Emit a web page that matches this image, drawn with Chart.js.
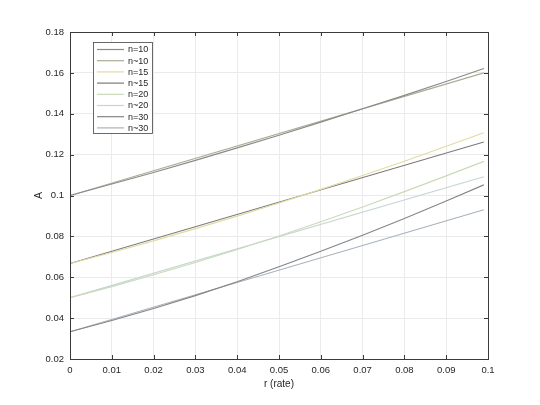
<!DOCTYPE html>
<html>
<head>
<meta charset="utf-8">
<script src="https://cdn.jsdelivr.net/npm/chart.js@4.4.1/dist/chart.umd.min.js"></script>
<style>
  html, body { margin: 0; padding: 0; background: #fff; }
  #wrap { width: 540px; height: 405px; }
</style>
</head>
<body>
<div id="wrap"><canvas id="myChart" width="540" height="405"></canvas></div>
<script>
// rates along the x axis
var rates = [0, 0.01, 0.02, 0.03, 0.04, 0.05, 0.06, 0.07, 0.08, 0.09, 0.099];
// exact curves
var exact10 = [0.1000, 0.1056, 0.1113, 0.1172, 0.1233, 0.1295, 0.1359, 0.1424, 0.1490, 0.1558, 0.1621];
var exact15 = [0.0667, 0.0721, 0.0778, 0.0838, 0.0899, 0.0963, 0.1030, 0.1098, 0.1168, 0.1241, 0.1307];
var exact20 = [0.0500, 0.0554, 0.0612, 0.0672, 0.0736, 0.0802, 0.0872, 0.0944, 0.1019, 0.1096, 0.1167];
var exact30 = [0.0333, 0.0388, 0.0447, 0.0510, 0.0578, 0.0651, 0.0727, 0.0806, 0.0888, 0.0973, 0.1052];
// approximations are straight lines, start and end
var approxRates = [0, 0.099];
var approx10 = [0.1000, 0.1600];
var approx15 = [0.0667, 0.1262];
var approx20 = [0.0500, 0.1092];
var approx30 = [0.0333, 0.0930];

var labels = ['n=10', 'n~10', 'n=15', 'n~15', 'n=20', 'n~20', 'n=30', 'n~30'];
var colors = ['#8a8a8a', '#a9ad92', '#e2dba0', '#7a7a7a', '#c9dab8', '#c3d7d3', '#858585', '#a8b3bd'];

var xTicks = [0, 0.01, 0.02, 0.03, 0.04, 0.05, 0.06, 0.07, 0.08, 0.09, 0.1];
var yTicks = [0.02, 0.04, 0.06, 0.08, 0.1, 0.12, 0.14, 0.16, 0.18];

function toPoints(xs, ys) {
    return ys.map(function (y, i) { return { x: xs[i], y: y }; });
}

var series = [
    toPoints(rates, exact10), toPoints(approxRates, approx10),
    toPoints(rates, exact15), toPoints(approxRates, approx15),
    toPoints(rates, exact20), toPoints(approxRates, approx20),
    toPoints(rates, exact30), toPoints(approxRates, approx30)
];

var datasets = series.map(function (pts, i) {
    return {
        label: labels[i],
        data: pts,
        borderColor: colors[i],
        borderWidth: 1.1,
        pointRadius: 0,
        fill: false,
        tension: 0
    };
});

var FONT = '"Liberation Sans", Arial, Helvetica, sans-serif';
var INK = '#262626';

function fmt(v) { return String(+Number(v).toFixed(4)); }

// box around the axes, inward tick marks and the framed legend
var matlabFrame = {
    id: 'matlabFrame',
    afterDraw: function (chart) {
        var ctx = chart.ctx, a = chart.chartArea;
        var xs = chart.scales.x, ys = chart.scales.y;
        ctx.save();
        ctx.strokeStyle = '#3a3a3a';
        ctx.lineWidth = 1;
        ctx.beginPath();
        xTicks.forEach(function (v) {
            var px = Math.round(xs.getPixelForValue(v)) + 0.5;
            ctx.moveTo(px, a.bottom); ctx.lineTo(px, a.bottom - 4);
            ctx.moveTo(px, a.top); ctx.lineTo(px, a.top + 4);
        });
        yTicks.forEach(function (v) {
            var py = Math.round(ys.getPixelForValue(v)) + 0.5;
            ctx.moveTo(a.left, py); ctx.lineTo(a.left + 4, py);
            ctx.moveTo(a.right, py); ctx.lineTo(a.right - 4, py);
        });
        ctx.stroke();
        ctx.strokeRect(Math.round(a.left) + 0.5, Math.round(a.top) + 0.5,
            Math.round(a.right - a.left), Math.round(a.bottom - a.top));

        // legend
        var x0 = Math.round(a.left) + 23, y0 = Math.round(a.top) + 10, w = 59, h = 91;
        ctx.fillStyle = '#fff';
        ctx.fillRect(x0, y0, w, h);
        ctx.strokeStyle = '#444';
        ctx.lineWidth = 0.8;
        ctx.strokeRect(x0 + 0.5, y0 + 0.5, w, h);
        ctx.font = '9px ' + FONT;
        ctx.textBaseline = 'middle';
        ctx.textAlign = 'left';
        chart.data.datasets.forEach(function (ds, i) {
            var y = y0 + 7.5 + i * 11.2;
            ctx.strokeStyle = ds.borderColor;
            ctx.lineWidth = 1.2;
            ctx.beginPath();
            ctx.moveTo(x0 + 4, y); ctx.lineTo(x0 + 31, y);
            ctx.stroke();
            ctx.fillStyle = INK;
            ctx.fillText(ds.label, x0 + 35, y + 0.5);
        });
        ctx.restore();
    }
};

var ctx = document.getElementById('myChart').getContext('2d');
var myChart = new Chart(ctx, {
    type: 'line',
    data: { datasets: datasets },
    options: {
        responsive: false,
        animation: false,
        layout: { padding: { left: 0, right: 52, top: 32, bottom: 0 } },
        plugins: {
            legend: { display: false },
            tooltip: { enabled: false }
        },
        scales: {
            x: {
                type: 'linear',
                min: 0,
                max: 0.1,
                afterBuildTicks: function (scale) {
                    scale.ticks = xTicks.map(function (v) { return { value: v }; });
                },
                afterFit: function (scale) { scale.height = 46; },
                grid: { color: '#ebebeb', drawTicks: false },
                border: { display: false },
                ticks: {
                    padding: 6,
                    maxRotation: 0,
                    color: INK,
                    font: { family: FONT, size: 9.5 },
                    callback: fmt
                },
                title: {
                    display: true,
                    text: 'r (rate)',
                    color: INK,
                    font: { family: FONT, size: 10 },
                    padding: { top: 0, bottom: 15 }
                }
            },
            y: {
                type: 'linear',
                min: 0.02,
                max: 0.18,
                afterBuildTicks: function (scale) {
                    scale.ticks = yTicks.map(function (v) { return { value: v }; });
                },
                afterFit: function (scale) { scale.width = 70; },
                grid: { color: '#ebebeb', drawTicks: false },
                border: { display: false },
                ticks: {
                    padding: 6,
                    color: INK,
                    font: { family: FONT, size: 9.5 },
                    callback: fmt
                },
                title: {
                    display: true,
                    text: 'A',
                    color: INK,
                    font: { family: FONT, size: 10.5 },
                    padding: { top: 33, bottom: 0 }
                }
            }
        }
    },
    plugins: [matlabFrame]
});
</script>
</body>
</html>
